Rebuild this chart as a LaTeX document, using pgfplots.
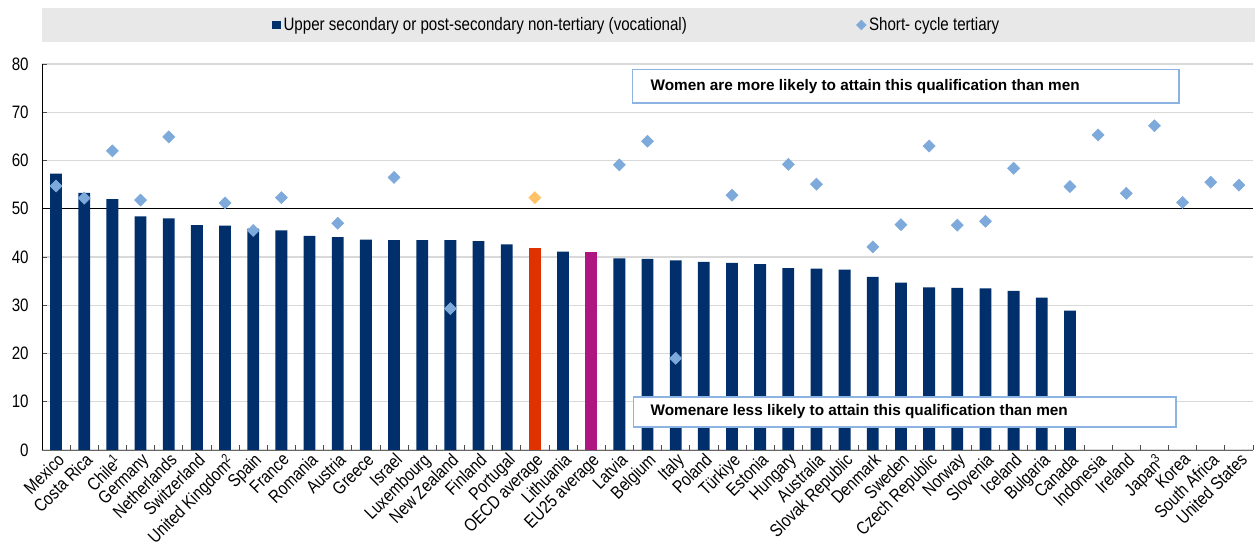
\documentclass[border=0pt]{standalone}
\usepackage{fontspec}
\setmainfont{Liberation Sans}[FakeStretch=0.84]
\newfontfamily\notefont{Liberation Sans}
\usepackage{pgfplots}
\pgfplotsset{compat=1.18}

\definecolor{navy}{HTML}{002F6C}
\definecolor{oecdred}{HTML}{E03100}
\definecolor{eumag}{HTML}{AE177F}
\definecolor{ltblue}{HTML}{7EA9DB}
\definecolor{ltorange}{HTML}{FFC266}
\definecolor{gridgray}{HTML}{D9D9D9}
\definecolor{legbg}{HTML}{E8E8E8}
\definecolor{boxblue}{HTML}{8DB3E2}

\begin{document}
\begin{tikzpicture}[font=\fontsize{13.5}{15}\selectfont]
% legend background band
\fill[legbg] (0pt,306pt) rectangle (909.75pt,331.5pt);
\begin{axis}[
    at={(0pt,0pt)}, anchor=south west,
    scale only axis,
    width=908.25pt, height=289.5pt,
    xmin=-0.5, xmax=42.5,
    ymin=0, ymax=80,
    ytick={0,10,...,80},
    xtick={-0.5,0.5,...,42.5},
    xticklabels={},
    extra x ticks={0,...,42},
    extra x tick labels={Mexico,Costa Rica,Chile\textsuperscript{1},Germany,Netherlands,Switzerland,United Kingdom\textsuperscript{2},Spain,France,Romania,Austria,Greece,Israel,Luxembourg,New Zealand,Finland,Portugal,OECD average,Lithuania,EU25 average,Latvia,Belgium,Italy,Poland,Türkiye,Estonia,Hungary,Australia,Slovak Republic,Denmark,Sweden,Czech Republic,Norway,Slovenia,Iceland,Bulgaria,Canada,Indonesia,Ireland,Japan\textsuperscript{3},Korea,South Africa,United States},
    extra x tick style={tick style={draw=none}},
    x tick label style={rotate=45, anchor=north east, inner sep=1pt},
    y tick label style={xshift=-6.5pt},
    extra y ticks={50},
    extra y tick labels={},
    extra y tick style={grid=major, major grid style={black, line width=1pt}, tick style={draw=none}},
    axis x line*=bottom,
    axis y line*=left,
    x axis line style={black!60},
    y axis line style={black},
    tick align=inside,
    major tick length=4pt,
    tick style={black!70, line width=0.6pt},
    ymajorgrids=true,
    major grid style={gridgray, line width=1pt},
    /pgf/number format/assume math mode=true,
    clip=false,
    legend style={at={(rel axis cs:0.19,1.101)}, anchor=west, draw=none, fill=none,
        inner sep=0pt, legend columns=2,
        /tikz/every even column/.append style={column sep=125pt}},
]

% bars
\addplot[ybar, bar width=0.42, bar shift=0pt, fill=navy, draw=none,
    legend image code/.code={\fill[navy] (0pt,-3.2pt) rectangle (6.4pt,3.2pt);}]
coordinates {
    (0,57.3) (1,53.3) (2,52.0) (3,48.4) (4,48.0) (5,46.6) (6,46.5) (7,45.9)
    (8,45.5) (9,44.4) (10,44.1) (11,43.6) (12,43.5) (13,43.5) (14,43.5)
    (15,43.3) (16,42.6) (18,41.1) (20,39.7) (21,39.6) (22,39.3) (23,39.0)
    (24,38.8) (25,38.5) (26,37.7) (27,37.6) (28,37.4) (29,35.9) (30,34.7)
    (31,33.7) (32,33.6) (33,33.5) (34,33.0) (35,31.6) (36,28.9)
};
\addlegendentry{Upper secondary or post-secondary non-tertiary (vocational)}

\addplot[ybar, bar width=0.42, bar shift=0pt, fill=oecdred, draw=none, forget plot]
coordinates {(17,41.8)};
\addplot[ybar, bar width=0.42, bar shift=0pt, fill=eumag, draw=none, forget plot]
coordinates {(19,41.0)};

% short-cycle tertiary
\addplot[only marks, mark=square*, mark size=3.2pt, color=ltblue,
    every mark/.append style={rotate=45},
    legend image code/.code={\fill[ltblue] (0pt,0pt)--(3.6pt,3.6pt)--(7.2pt,0pt)--(3.6pt,-3.6pt)--cycle;}]
coordinates {
    (0,54.7) (1,52.2) (2,62.0) (3,51.8) (4,64.9) (6,51.2) (7,45.5) (8,52.3)
    (10,47.0) (12,56.5) (14,29.3) (20,59.1) (21,64.0) (22,19.0) (24,52.8)
    (26,59.2) (27,55.1) (29,42.1) (30,46.7) (31,63.0) (32,46.6) (33,47.4)
    (34,58.4) (36,54.6) (37,65.3) (38,53.2) (39,67.2) (40,51.3) (41,55.5)
    (42,54.9)
};
\addlegendentry{Short- cycle tertiary}

\addplot[only marks, mark=square*, mark size=3.2pt, color=ltorange,
    every mark/.append style={rotate=45}, forget plot]
coordinates {(17,52.3)};

% annotation boxes
\filldraw[fill=white, draw=boxblue, line width=1pt]
    (axis cs:20.47,71.9) rectangle (axis cs:39.87,78.8);
\node[anchor=west, inner sep=0pt, font=\notefont\fontsize{11.5}{13}\selectfont\bfseries]
    at (axis cs:21.1,75.35) {Women are more likely to attain this qualification than men};
\filldraw[fill=white, draw=boxblue, line width=1pt]
    (axis cs:20.5,4.8) rectangle (axis cs:39.77,11.0);
\node[anchor=west, inner sep=0pt, font=\notefont\fontsize{11.5}{13}\selectfont\bfseries]
    at (axis cs:21.1,7.9) {Womenare less likely to attain this qualification than men};
\end{axis}
\pgfresetboundingbox
\path (-31.5pt,-71.25pt) rectangle (909.75pt,337.5pt);
\end{tikzpicture}
\end{document}
